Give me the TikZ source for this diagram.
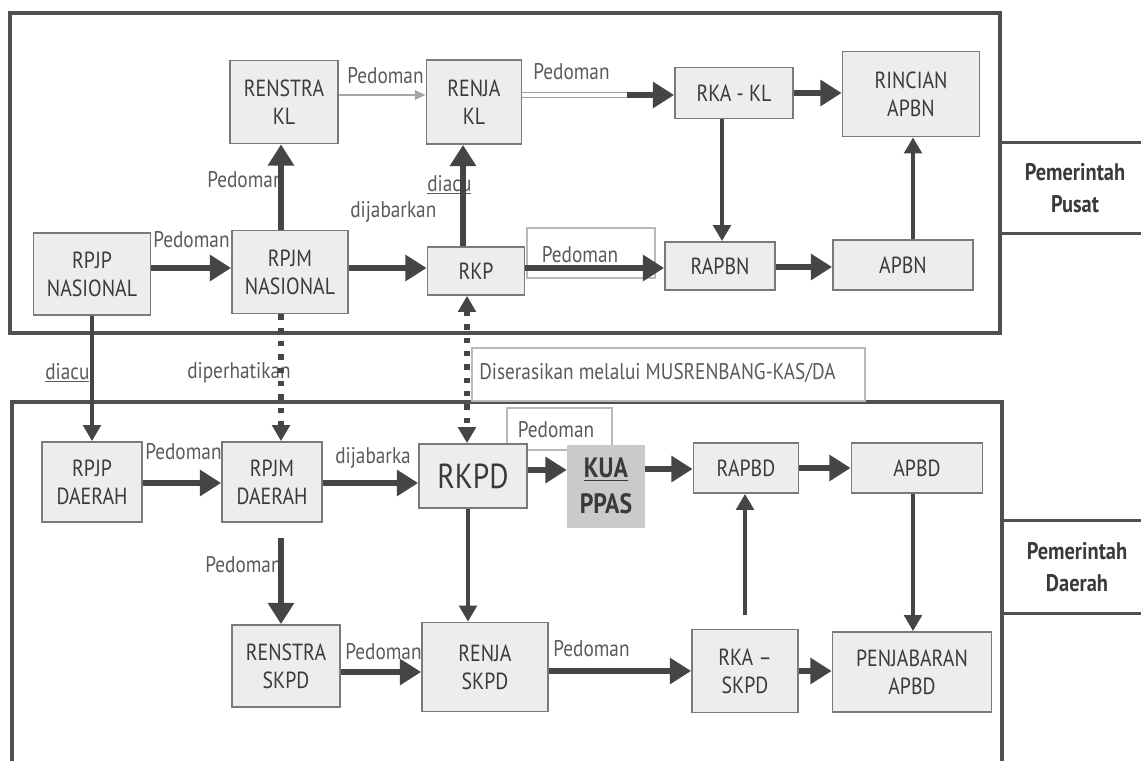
\documentclass[tikz,border=0pt]{standalone}
\usepackage{fontspec}
\setmainfont{PT Sans}[FakeStretch=0.85]
\usetikzlibrary{arrows.meta}
\definecolor{boxfill}{HTML}{EDEDED}
\definecolor{boxline}{HTML}{7A7A7A}
\definecolor{arr}{HTML}{454545}
\definecolor{framec}{HTML}{505050}
\definecolor{lbl}{HTML}{5A5A5A}
\definecolor{txt}{HTML}{3A3A3A}
\definecolor{kuafill}{HTML}{CACACA}
\begin{document}
\begin{tikzpicture}[x=0.75pt,y=-0.75pt,
  box/.style={draw=boxline, fill=boxfill, line width=1.3pt, text=txt, align=center,
              inner sep=0pt, font=\fontsize{17.5}{21}\selectfont},
  sz/.style 2 args={minimum width=#1*0.75pt, minimum height=#2*0.75pt},
  lab/.style={text=lbl, font=\fontsize{17}{20}\selectfont, inner sep=0pt},
  big/.style={draw=arr, line width=5pt, -{Triangle[length=16pt,width=19pt]}},
  mid/.style={draw=arr, line width=3pt, -{Triangle[length=12pt,width=13pt]}},
  thinarr/.style={draw=gray!70, line width=1.2pt, -{Triangle[length=8pt,width=7pt]}},
  dbl/.style={draw=gray!75, double=white, line width=0.9pt, double distance=2.5pt},
  dots/.style={draw=arr, line width=4pt, dash pattern=on 4pt off 6pt},
  frame/.style={draw=framec, line width=3.3pt},
  tbox/.style={draw=gray!55, line width=1pt},
  side/.style={draw=framec, line width=2.5pt, fill=white, text=txt, align=center,
               font=\bfseries\fontsize{18}{24}\selectfont, inner sep=0pt}
]
\useasboundingbox (0,0) rectangle (1141,760);

% frames
\draw[frame] (10,13) rectangle (1000,333);
\draw[frame] (12,402) rectangle (1002,775);
\node[side, sz={150}{91}] (pusat) at (1075,188) {Pemerintah\\Pusat};
\node[side, sz={150}{93}] (daerah) at (1077,567) {Pemerintah\\Daerah};

% text boxes behind
\draw[tbox] (527,228) rectangle (655,278);
\draw[tbox] (472,348) rectangle (865,401);
\draw[tbox] (507,408) rectangle (612,450);

% labels
\node[lab, anchor=west] (l1) at (153,240) {Pedoman};
\node[lab, anchor=west] (l2) at (350,212) {dijabarkan};
\node[lab, anchor=west] (l3) at (207,180) {Pedoman};
\node[lab, anchor=west] (l4) at (347,76) {Pedoman};
\node[lab, anchor=west] (l5) at (427,185) {\underline{diacu}};
\node[lab, anchor=west] (l6) at (533,72) {Pedoman};
\node[lab] (l7) at (580,255) {Pedoman};
\node[lab, anchor=west] (l8) at (45,373) {\underline{diacu}};
\node[lab, anchor=west] (l9) at (187,373) {diperhatikan};
\node[lab, anchor=west] (l10) at (479,373) {Diserasikan melalui MUSRENBANG-KAS/DA};
\node[lab, anchor=west] (l11) at (145,452) {Pedoman};
\node[lab, anchor=west] (l12) at (335,458) {dijabarka};
\node[lab] (l13) at (556,430) {Pedoman};
\node[lab, anchor=west] (l14) at (205,565) {Pedoman};
\node[lab, anchor=west] (l15) at (345,652) {Pedoman};
\node[lab, anchor=west] (l16) at (553,649) {Pedoman};

% top nodes
\node[box, sz={108}{83}] (renstrakl) at (284,102) {RENSTRA\\KL};
\node[box, sz={95}{84}] (renjakl) at (474,102) {RENJA\\KL};
\node[box, sz={118}{51}] (rkakl) at (734,93) {RKA - KL};
\node[box, sz={137}{85}] (rincian) at (911,94) {RINCIAN\\APBN};
\node[box, sz={117}{82}] (rpjpn) at (92,274) {RPJP\\NASIONAL};
\node[box, sz={116}{83}] (rpjmn) at (290,272) {RPJM\\NASIONAL};
\node[box, sz={97}{48}] (rkp) at (476,271) {RKP};
\node[box, sz={110}{48}] (rapbn) at (720,266) {RAPBN};
\node[box, sz={140}{50}] (apbn) at (903,265) {APBN};

% bottom nodes
\node[box, sz={100}{80}] (rpjpd) at (92,482) {RPJP\\DAERAH};
\node[box, sz={100}{80}] (rpjmd) at (272,482) {RPJM\\DAERAH};
\node[box, sz={108}{64}, font=\fontsize{26}{30}\selectfont] (rkpd) at (473,476) {RKPD};
\node[fill=kuafill, sz={78}{83}, inner sep=0pt, align=center, text=txt,
      font=\bfseries\fontsize{21}{27}\selectfont] (kua) at (606,486) {\underline{KUA}\\PPAS};
\node[box, sz={105}{50}] (rapbd) at (746,468) {RAPBD};
\node[box, sz={131}{50}] (apbd) at (917,468) {APBD};
\node[box, sz={108}{82}] (renstraskpd) at (286,666) {RENSTRA\\SKPD};
\node[box, sz={126}{89}] (renjaskpd) at (485,667) {RENJA\\SKPD};
\node[box, sz={106}{83}] (rkaskpd) at (745,671) {RKA –\\SKPD};
\node[box, sz={159}{80}] (penj) at (912,672) {PENJABARAN\\APBD};

% top connectors
\draw[big] (rpjpn.east |- 0,268) -- (rpjmn.west |- 0,268);
\draw[big] (rpjmn.east |- 0,268) -- (rkp.west |- 0,268);
\draw[big] (rpjmn.north -| 281,0) -- (renstrakl.south -| 281,0);
\draw[thinarr] (renstrakl.east |- 0,95) -- (renjakl.west |- 0,95);
\draw[big] (rkp.north -| 463,0) -- (renjakl.south -| 463,0);
\coordinate (dblend) at (627,95);
\draw[dbl] (renjakl.east |- 0,95) -- (dblend);
\draw[big] (dblend) -- (rkakl.west |- 0,95);
\draw[big] (rkakl.east |- 0,93) -- (rincian.west |- 0,93);
\draw[mid] (rkakl.south -| 722,0) -- (rapbn.north -| 722,0);
\draw[big] (rkp.east |- 0,268) -- (rapbn.west |- 0,268);
\draw[big] (rapbn.east |- 0,267) -- (apbn.west |- 0,267);
\draw[mid] (apbn.north -| 913,0) -- (rincian.south -| 913,0);

% between
\draw[mid] (rpjpn.south -| 92,0) -- (rpjpd.north -| 92,0);
\draw[dots] (rpjmn.south -| 281,0) -- ([yshift=8pt]rpjmd.north -| 281,0);
\draw[draw=arr, line width=3pt, -{Triangle[length=12pt,width=13pt]}] ([yshift=10pt]rpjmd.north -| 281,0) -- (rpjmd.north -| 281,0);
\draw[dots, {Triangle[length=12pt,width=13pt]}-{Triangle[length=12pt,width=13pt]}] (rkp.south -| 467,0) -- (rkpd.north -| 467,0);

% bottom connectors
\draw[big] (rpjpd.east |- 0,483) -- (rpjmd.west |- 0,483);
\draw[big] (rpjmd.east |- 0,483) -- (rkpd.west |- 0,483);
\draw[big] (rkpd.east |- 0,470) -- (kua.west |- 0,470);
\draw[big] (kua.east |- 0,469) -- (rapbd.west |- 0,469);
\draw[big] (rapbd.east |- 0,468) -- (apbd.west |- 0,468);
\draw[big, shorten <=11pt] (rpjmd.south -| 281,0) -- (renstraskpd.north -| 281,0);
\draw[mid] (rkpd.south -| 468,0) -- (renjaskpd.north -| 468,0);
\draw[big] (renstraskpd.east |- 0,672) -- (renjaskpd.west |- 0,672);
\draw[big] (renjaskpd.east |- 0,671) -- (rkaskpd.west |- 0,671);
\draw[mid, shorten <=10pt] (rkaskpd.north -| 745,0) -- (rapbd.south -| 745,0);
\draw[big] (rkaskpd.east |- 0,671) -- (penj.west |- 0,671);
\draw[mid] (apbd.south -| 913,0) -- (penj.north -| 913,0);
\end{tikzpicture}
\end{document}
